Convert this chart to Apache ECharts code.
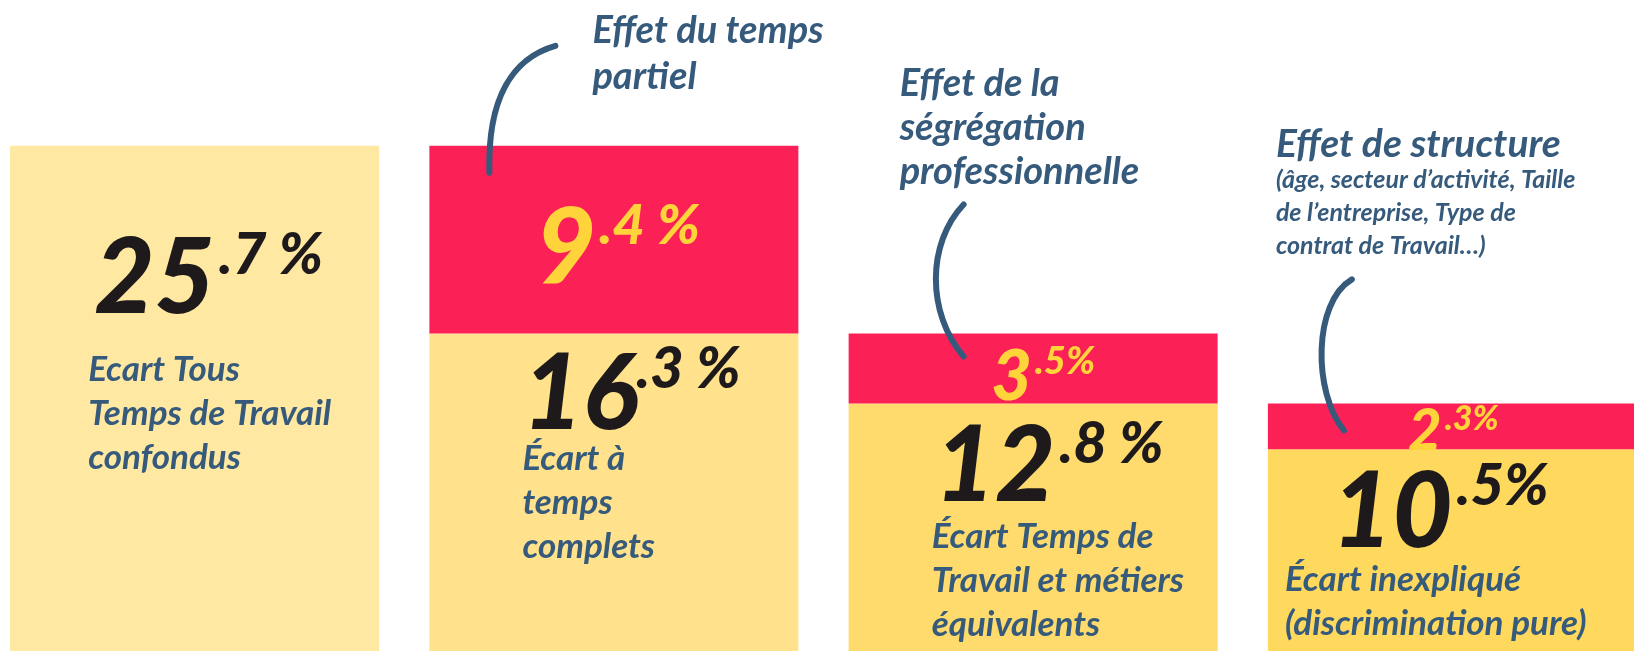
<!DOCTYPE html>
<html>
<head>
<meta charset="utf-8">
<script src="https://cdn.jsdelivr.net/npm/echarts@6/dist/echarts.min.js"></script>
<style>
  html, body { margin: 0; padding: 0; background: #fff; }
  #chart { width: 1634px; height: 651px; }
</style>
</head>
<body>
<div id="chart"></div>
<script>
// Pay gap decomposition, drawn as a waterfall: yellow = remaining gap, red = effect removed.

const categories = ['Tous temps de travail', 'Temps complets', 'Métiers équivalents', 'Inexpliqué']
const gapValues = [25.7, 16.3, 12.8, 10.5]
const effectValues = [null, 9.4, 3.5, 2.3]
const gapLabels = [
  ['Ecart Tous', 'Temps de Travail', 'confondus'],
  ['Écart à', 'temps', 'complets'],
  ['Écart Temps de', 'Travail et métiers', 'équivalents'],
  ['Écart inexpliqué', '(discrimination pure)'],
]
const effectTitles = [null, ['Effet du temps', 'partiel'], ['Effet de la', 'ségrégation', 'professionnelle'], ['Effet de structure']]
const effectDetails = [null, null, null, ['(âge, secteur d’activité, Taille', 'de l’entreprise, Type de', 'contrat de Travail…)']]

const YELLOWS = ['#FFE8A1', '#FFE28B', '#FEDB6C', '#FED95D']
const RED = '#FB2157'
const NAVY = '#365A7B'
const INK = '#1E1A1C'
const GOLD = '#FFD43A'
const FONT = 'Lato'
const BAR_WIDTH = 369

// label placement inside the yellow bars: [x, y] from bar top-left, big line height,
// superscript top padding / left gap, number indent
const GAP_LAYOUT = [
  {x: 78, y: 66, line: 136, supTop: 15, supGap: 4, indent: 6},
  {x: 93, y: 20, line: 83, supTop: -13, supGap: -2, indent: 0},
  {x: 83, y: 18, line: 93, supTop: -6, supGap: 4, indent: 3},
  {x: 17, y: 20, line: 88, supTop: -12, supGap: 4, indent: 47},
]
// yellow numbers on the red segments
const EFFECT_LAYOUT = [
  null,
  {big: 104, sup: 56, offset: [4, 10]},
  {big: 70, sup: 38, offset: [10, 9]},
  {big: 58, sup: 34, offset: [1, 5]},
]

function splitValue(v) {
  const [int, dec] = v.toFixed(1).split('.')
  return {int, dec}
}

function gapLabel(i) {
  const lay = GAP_LAYOUT[i]
  const {int, dec} = splitValue(gapValues[i])
  const pct = i < 3 ? ' %' : '%'
  const lines = [`{big|${int}}{sup|.${dec}${pct}}`].concat(gapLabels[i].map(t => `{txt|${t}}`))
  return {
    show: true,
    position: [lay.x, lay.y],
    align: 'left',
    verticalAlign: 'top',
    formatter: lines.join('\n'),
    rich: {
      big: {fontSize: 104, fontWeight: 900, fontStyle: 'italic', fontFamily: FONT, color: INK,
        lineHeight: lay.line, padding: [0, 0, 0, lay.indent]},
      sup: {fontSize: 58, fontWeight: 900, fontStyle: 'italic', fontFamily: FONT, color: INK,
        lineHeight: 10, verticalAlign: 'top', padding: [lay.supTop, 0, 0, lay.supGap]},
      txt: {fontSize: 35, fontWeight: 'bold', fontStyle: 'italic', fontFamily: FONT, color: NAVY, lineHeight: 44},
    },
  }
}

function effectLabel(i) {
  const s = EFFECT_LAYOUT[i]
  const {int, dec} = splitValue(effectValues[i])
  const pct = i === 1 ? ' %' : '%'
  return {
    show: true,
    position: 'inside',
    offset: s.offset,
    formatter: `{big|${int}}{sup|.${dec}${pct}}`,
    rich: {
      big: {fontSize: s.big, fontWeight: 900, fontStyle: 'italic', fontFamily: FONT, color: GOLD, lineHeight: s.big},
      sup: {fontSize: s.sup, fontWeight: 900, fontStyle: 'italic', fontFamily: FONT, color: GOLD,
        lineHeight: s.big - 0.72 * (s.big - s.sup), verticalAlign: 'top', padding: [0, 0, 0, 3]},
    },
  }
}

const chart = echarts.init(document.getElementById('chart'), null, {renderer: 'canvas'})

chart.setOption({
  animation: false,
  backgroundColor: '#ffffff',
  grid: {left: -15, right: -28, top: 0, bottom: -8, outerBoundsMode: 'none'},
  xAxis: {type: 'category', data: categories, show: false},
  yAxis: {type: 'value', min: 0, max: 33, show: false},
  series: [
    {
      name: 'Écart',
      type: 'bar',
      stack: 'gap',
      barWidth: BAR_WIDTH,
      data: gapValues.map((v, i) => ({value: v, itemStyle: {color: YELLOWS[i]}, label: gapLabel(i)})),
    },
    {
      name: 'Effet',
      type: 'bar',
      stack: 'gap',
      barWidth: BAR_WIDTH,
      itemStyle: {color: RED},
      data: effectValues.map((v, i) => v == null ? '-' : {value: v, label: effectLabel(i)}),
    },
  ],
})

// annotations hang off the top-left corner of each red segment
const NOTE_LAYOUT = [
  null,
  {title: [163, -138], lineHeight: 46, curve: [[60, 27], [58, -49], [84, -88], [126, -100]]},
  {title: [51, -272], lineHeight: 44, curve: [[115, -129], [78, -90], [78, -20], [115, 23]]},
  {title: [8, -282], lineHeight: 46, detail: [8, -240], curve: [[84, -124], [45, -101], [45, -11], [76, 27]]},
]

const graphics = []
effectValues.forEach((v, i) => {
  if (v == null) return
  const [cx, top] = chart.convertToPixel({gridIndex: 0}, [i, gapValues[i] + v])
  const left = cx - BAR_WIDTH / 2
  const lay = NOTE_LAYOUT[i]
  const c = lay.curve
  graphics.push({
    type: 'bezierCurve',
    shape: {
      x1: left + c[0][0], y1: top + c[0][1],
      cpx1: left + c[1][0], cpy1: top + c[1][1],
      cpx2: left + c[2][0], cpy2: top + c[2][1],
      x2: left + c[3][0], y2: top + c[3][1],
    },
    style: {stroke: NAVY, lineWidth: 6, fill: null, lineCap: 'round'},
    z: 10,
  })
  graphics.push({
    type: 'text',
    x: left + lay.title[0],
    y: top + lay.title[1],
    style: {
      text: effectTitles[i].join('\n'),
      fill: NAVY, fontSize: i === 3 ? 39 : 38, fontWeight: 'bold', fontStyle: 'italic', fontFamily: FONT,
      lineHeight: lay.lineHeight, align: 'left', verticalAlign: 'top',
    },
    z: 10,
  })
  if (effectDetails[i]) {
    graphics.push({
      type: 'text',
      x: left + lay.detail[0],
      y: top + lay.detail[1],
      style: {
        text: effectDetails[i].join('\n'),
        fill: NAVY, fontSize: 25, fontWeight: 'bold', fontStyle: 'italic', fontFamily: FONT,
        lineHeight: 33, align: 'left', verticalAlign: 'top',
      },
      z: 10,
    })
  }
})

chart.setOption({graphic: graphics})
</script>
</body>
</html>
